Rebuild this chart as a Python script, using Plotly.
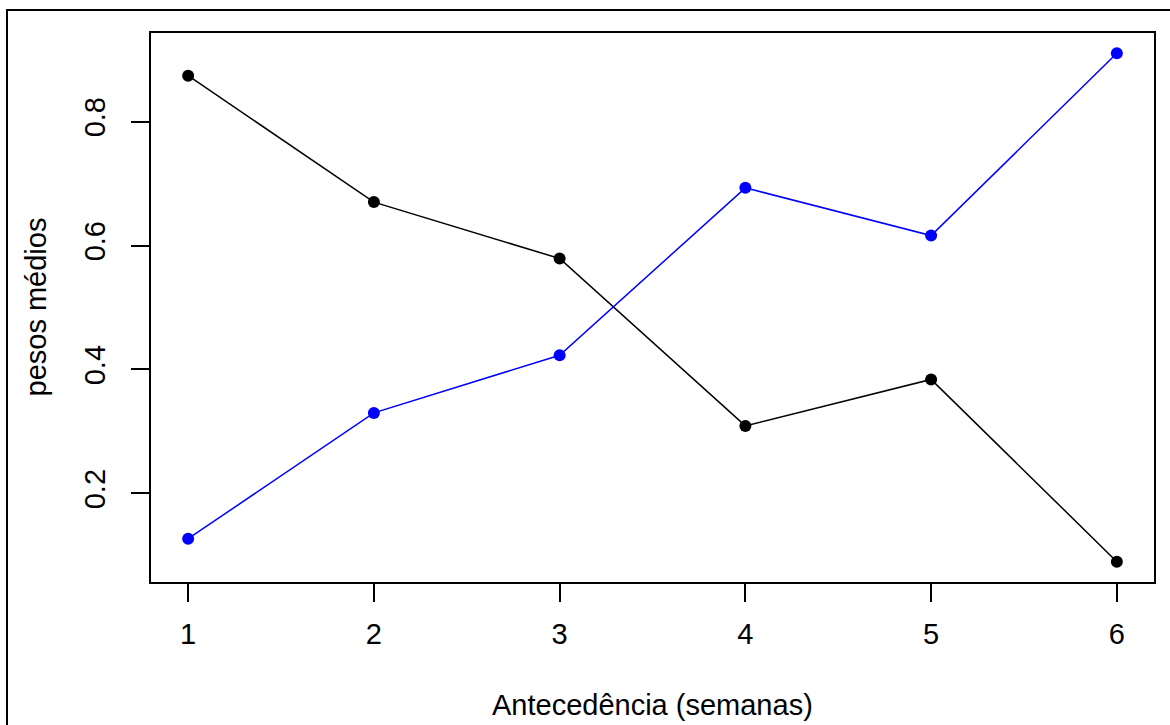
import plotly.graph_objects as go

# Antecedência (semanas) and mean weights for the two series
semanas = [1, 2, 3, 4, 5, 6]
pesos_preto = [0.874, 0.670, 0.579, 0.309, 0.384, 0.090]
pesos_azul = [0.127, 0.330, 0.423, 0.693, 0.616, 0.910]
x_ticks = [1, 2, 3, 4, 5, 6]
y_ticks = [0.2, 0.4, 0.6, 0.8]

W, H = 1170, 725
L, R, T, B = 151, 16, 33, 143
pw, ph = W - L - R, H - T - B

FONT = "Liberation Sans, Arial, sans-serif"
FS = 29

fig = go.Figure()
fig.add_trace(go.Scatter(
    x=semanas, y=pesos_preto, mode="lines+markers",
    line=dict(color="black", width=1.5),
    marker=dict(color="black", size=12),
    showlegend=False,
))
fig.add_trace(go.Scatter(
    x=semanas, y=pesos_azul, mode="lines+markers",
    line=dict(color="#0000FF", width=1.5),
    marker=dict(color="#0000FF", size=12),
    showlegend=False,
))

# R-style 4% padding around the data range
xmin, xmax = min(semanas), max(semanas)
allv = pesos_preto + pesos_azul
ymin, ymax = min(allv), max(allv)
xpad = 0.04 * (xmax - xmin)
ypad = 0.04 * (ymax - ymin)

fig.update_xaxes(
    range=[xmin - xpad, xmax + xpad],
    tickvals=x_ticks, ticktext=[str(v) for v in x_ticks],
    ticks="outside", ticklen=18, tickwidth=2, tickcolor="black",
    ticklabelstandoff=7, automargin=False,
    showline=True, linecolor="black", linewidth=2, mirror=True,
    showgrid=False, zeroline=False,
    tickfont=dict(family=FONT, size=FS, color="black"),
)
fig.update_yaxes(
    range=[ymin - ypad, ymax + ypad],
    tickvals=y_ticks, ticktext=[f"{v:.1f}" for v in y_ticks],
    ticks="outside", ticklen=18, tickwidth=2, tickcolor="black",
    tickangle=-90, ticklabelstandoff=14, automargin=False,
    showline=True, linecolor="black", linewidth=2, mirror=True,
    showgrid=False, zeroline=False,
    tickfont=dict(family=FONT, size=FS, color="black"),
)

# pixel -> paper helpers for the frame and axis titles
def px_x(p):
    return (p - L) / pw

def px_y(p):
    return (H - B - p) / ph

fig.add_annotation(
    text="Antecedência (semanas)", xref="paper", yref="paper",
    x=0.5, y=px_y(705), xanchor="center", yanchor="middle",
    showarrow=False, font=dict(family=FONT, size=FS, color="black"),
)
fig.add_annotation(
    text="pesos médios", xref="paper", yref="paper",
    x=px_x(35), y=0.5, xanchor="center", yanchor="middle", textangle=-90,
    showarrow=False, font=dict(family=FONT, size=FS, color="black"),
)

# outer frame around the figure
fig.add_shape(
    type="rect", xref="paper", yref="paper",
    x0=px_x(7), x1=px_x(1185), y0=px_y(740), y1=px_y(10),
    line=dict(color="black", width=2), fillcolor="rgba(0,0,0,0)",
)

fig.update_layout(
    width=W, height=H,
    margin=dict(l=L, r=R, t=T, b=B, autoexpand=False),
    paper_bgcolor="white", plot_bgcolor="white",
    font=dict(family=FONT, size=FS, color="black"),
)

fig.write_html("out.html")
